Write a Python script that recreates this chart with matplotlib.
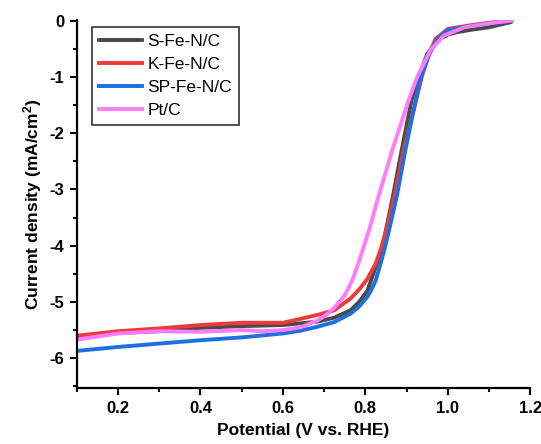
import matplotlib
matplotlib.use('Agg')
import matplotlib.pyplot as plt
import matplotlib.ticker as ticker

# --- DATA ---
LABELS = ['S-Fe-N/C', 'K-Fe-N/C', 'SP-Fe-N/C', 'Pt/C']
COLORS = ['#4a4a4a', '#f03a3a', '#1f6fe3', '#ff7cff']

v_s = [0.10, 0.20, 0.30, 0.40, 0.50, 0.60, 0.643, 0.684, 0.724, 0.764, 0.785, 0.805, 0.817,
       0.83, 0.842, 0.865, 0.888, 0.912, 0.93, 0.95, 0.975, 1.00, 1.02, 1.06, 1.10, 1.152]
j_s = [-5.63, -5.55, -5.52, -5.46, -5.43, -5.41, -5.38, -5.35, -5.28, -5.15, -5.00, -4.80, -4.55,
       -4.28, -4.00, -3.20, -2.31, -1.42, -1.00, -0.60, -0.35, -0.25, -0.21, -0.16, -0.12, -0.03]

v_k = [0.10, 0.20, 0.30, 0.40, 0.50, 0.60, 0.643, 0.684, 0.724, 0.764, 0.785, 0.805, 0.825,
       0.838, 0.85, 0.87, 0.893, 0.923, 0.937, 0.952, 0.97, 1.00, 1.05, 1.10, 1.15]
j_k = [-5.60, -5.52, -5.47, -5.41, -5.37, -5.37, -5.30, -5.23, -5.15, -4.94, -4.78, -4.59, -4.32,
       -4.05, -3.75, -3.15, -2.31, -1.42, -1.00, -0.65, -0.33, -0.15, -0.09, -0.04, 0.00]

v_sp = [0.10, 0.20, 0.30, 0.40, 0.50, 0.60, 0.643, 0.684, 0.724, 0.764, 0.785, 0.805, 0.815,
        0.825, 0.837, 0.847, 0.86, 0.877, 0.897, 0.922, 0.935, 0.955, 0.975, 1.00, 1.05, 1.10, 1.155]
j_sp = [-5.87, -5.80, -5.74, -5.68, -5.63, -5.56, -5.51, -5.44, -5.36, -5.21, -5.08, -4.91, -4.78,
        -4.62, -4.32, -4.05, -3.65, -3.10, -2.31, -1.42, -1.00, -0.60, -0.33, -0.17, -0.10, -0.05, 0.00]

v_pt = [0.10, 0.20, 0.30, 0.40, 0.50, 0.55, 0.60, 0.643, 0.684, 0.707, 0.725, 0.75, 0.768, 0.78,
        0.793, 0.81, 0.829, 0.865, 0.905, 0.926, 0.958, 0.99, 1.04, 1.10, 1.155]
j_pt = [-5.67, -5.56, -5.52, -5.53, -5.50, -5.52, -5.50, -5.45, -5.33, -5.22, -5.10, -4.88, -4.62, -4.38,
        -4.09, -3.70, -3.20, -2.31, -1.42, -1.00, -0.53, -0.27, -0.12, -0.05, 0.00]

SERIES = [(v_s, j_s), (v_k, j_k), (v_sp, j_sp), (v_pt, j_pt)]

# --- STYLE ---
plt.rcParams['font.family'] = ['Liberation Sans', 'DejaVu Sans']
plt.rcParams['mathtext.fontset'] = 'custom'
plt.rcParams['mathtext.rm'] = 'Liberation Sans:bold'
plt.rcParams['mathtext.bf'] = 'Liberation Sans:bold'
plt.rcParams['mathtext.default'] = 'bf'

fig = plt.figure(figsize=(5.41, 4.44), dpi=100)
ax = fig.add_axes([0.142, 0.126, 0.838, 0.829])

for (v, j), lab, col in zip(SERIES, LABELS, COLORS):
    ax.plot(v, j, color=col, linewidth=2.8, label=lab, solid_joinstyle='round')

ax.set_xlim(0.1, 1.2)
ax.set_ylim(-6.53, 0.01)

ax.xaxis.set_major_locator(ticker.MultipleLocator(0.2))
ax.xaxis.set_minor_locator(ticker.MultipleLocator(0.1))
ax.yaxis.set_major_locator(ticker.MultipleLocator(1))
ax.yaxis.set_minor_locator(ticker.MultipleLocator(0.5))
ax.xaxis.set_major_formatter(ticker.FormatStrFormatter('%.1f'))
ax.yaxis.set_major_formatter(ticker.FuncFormatter(lambda y, p: f'{int(round(y))}'))

for side in ['top', 'right']:
    ax.spines[side].set_visible(False)
for side in ['left', 'bottom']:
    ax.spines[side].set_linewidth(1.6)

ax.tick_params(which='major', direction='out', length=5, width=1.5, labelsize=12, pad=4)
ax.tick_params(which='minor', direction='out', length=3, width=1.5)
for lbl in ax.get_xticklabels() + ax.get_yticklabels():
    lbl.set_fontweight('bold')

ax.set_xlabel('Potential (V vs. RHE)', fontsize=12.5, fontweight='bold', labelpad=5)
ax.set_ylabel('Current density (mA/cm$^{2}$)', fontsize=12.5, fontweight='bold', labelpad=4)

leg = ax.legend(loc='upper left', bbox_to_anchor=(0.033, 0.981), fontsize=12.5,
                frameon=True, fancybox=False, handlelength=2.5, handletextpad=0.3,
                labelspacing=0.45, borderpad=0.4, borderaxespad=0.0)
leg.get_frame().set_edgecolor('black')
leg.get_frame().set_linewidth(1.2)

fig.savefig('out.png', dpi=100)
plt.close(fig)
